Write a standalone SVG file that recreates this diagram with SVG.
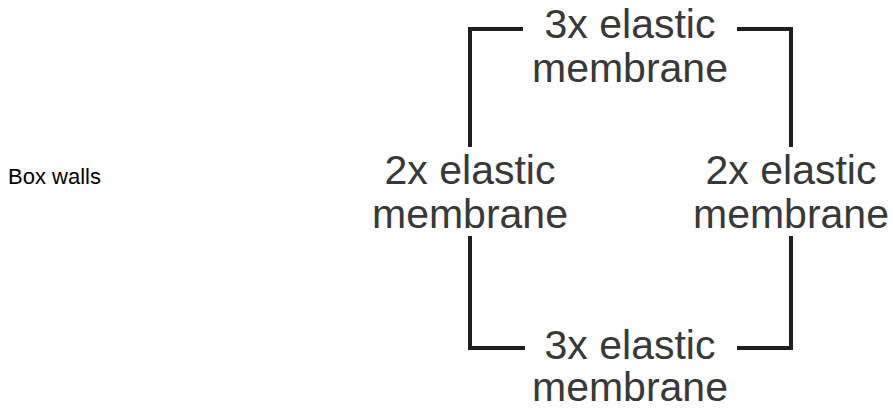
<svg xmlns="http://www.w3.org/2000/svg" width="893" height="409" viewBox="0 0 893 409">
<style>
.lbl{font-family:"Liberation Sans",Arial,sans-serif;font-size:41px;fill:#383838;text-anchor:middle}
.cap{font-family:"Liberation Sans",Arial,sans-serif;font-size:22px;fill:#000}
.wall{fill:none;stroke:#1f1f22;stroke-width:4;stroke-linejoin:miter;stroke-linecap:butt}
</style>
<rect width="893" height="409" fill="#fff"/>
<g id="title"><text class="cap" x="8" y="184">Box walls</text></g>
<g id="connectors">
<path class="wall" d="M523,29 H470 V147"/>
<path class="wall" d="M737,29 H791 V147"/>
<path class="wall" d="M470,236 V348 H525"/>
<path class="wall" d="M791,236 V348 H737"/>
</g>
<g id="top"><text class="lbl" x="630" y="38">3x elastic</text><text class="lbl" x="630" y="82">membrane</text></g>
<g id="left"><text class="lbl" x="470" y="184">2x elastic</text><text class="lbl" x="470" y="228">membrane</text></g>
<g id="right"><text class="lbl" x="791" y="184">2x elastic</text><text class="lbl" x="791" y="228">membrane</text></g>
<g id="bottom"><text class="lbl" x="630" y="359">3x elastic</text><text class="lbl" x="630" y="401">membrane</text></g>
</svg>
